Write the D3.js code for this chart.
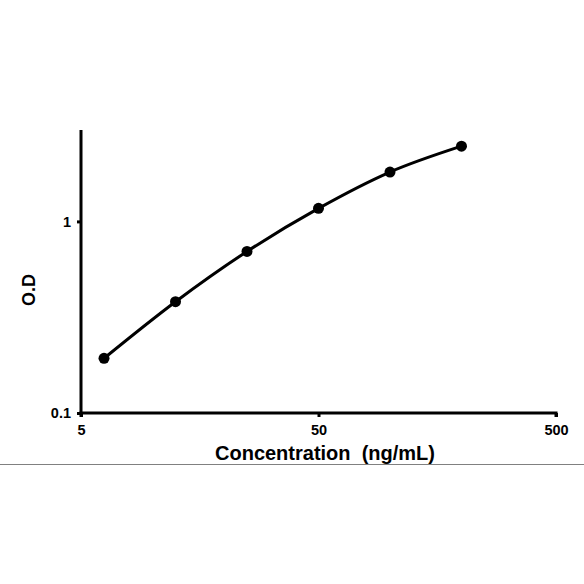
<!DOCTYPE html>
<html>
<head>
<meta charset="utf-8">
<script src="https://cdn.jsdelivr.net/npm/d3@7"></script>
<style>
  body { margin: 0; background: #fff; }
  svg text { font-family: "Liberation Sans", Arial, sans-serif; font-weight: bold; fill: #000; }
</style>
</head>
<body>
<svg class="curve" width="584" height="584"></svg>
<script>
// standard curve data
var concentration = [6.25, 12.5, 25, 50, 100, 200];
var od = [0.193, 0.381, 0.697, 1.17, 1.81, 2.47];
var xTicks = [5, 50, 500];
var yTicks = [0.1, 1];

var margin = {top: 130, right: 28, bottom: 171, left: 81},
    width = 584 - margin.left - margin.right,
    height = 584 - margin.top - margin.bottom;

var data = concentration.map(function(c, i) { return {x: c, y: od[i]}; });

var x = d3.scaleLog()
    .domain([5, 500])
    .range([0, width]);

var y = d3.scaleLog()
    .domain([0.1, 3])
    .range([height, 0]);

var svg = d3.select("svg.curve");

var g = svg.append("g")
    .attr("transform", "translate(" + margin.left + "," + margin.top + ")");

// x axis
var xAxis = g.append("g")
    .attr("transform", "translate(0," + height + ")")
    .call(d3.axisBottom(x)
      .tickValues(xTicks)
      .tickFormat(d3.format("d"))
      .tickSize(4)
      .tickPadding(8));

// y axis
var yAxis = g.append("g")
    .call(d3.axisLeft(y)
      .tickValues(yTicks)
      .tickFormat(function(d) { return d; })
      .tickSize(4)
      .tickPadding(6));

[xAxis, yAxis].forEach(function(a) {
  a.select(".domain").attr("stroke", "#000").attr("stroke-width", 3);
  a.selectAll(".tick line").attr("stroke", "#000").attr("stroke-width", 3);
  a.selectAll(".tick text").style("font-size", "14.5px");
});
// square off the domain path ends
xAxis.select(".domain").attr("d", "M0,4V0H" + width + "V4");
yAxis.select(".domain").attr("d", "M0,0V" + height);

// fitted curve
var line = d3.line()
    .x(function(d) { return x(d.x); })
    .y(function(d) { return y(d.y); })
    .curve(d3.curveMonotoneX);

g.append("path")
    .datum(data)
    .attr("fill", "none")
    .attr("stroke", "#000")
    .attr("stroke-width", 3)
    .attr("d", line);

g.selectAll("circle")
    .data(data)
  .enter().append("circle")
    .attr("cx", function(d) { return x(d.x); })
    .attr("cy", function(d) { return y(d.y); })
    .attr("r", 5.5)
    .attr("fill", "#000");

// axis titles
svg.append("text")
    .attr("x", 325)
    .attr("y", 460)
    .attr("text-anchor", "middle")
    .style("font-size", "20px")
    .style("white-space", "pre")
    .text("Concentration  (ng/mL)");

svg.append("text")
    .attr("transform", "translate(35,290) rotate(-90)")
    .attr("text-anchor", "middle")
    .style("font-size", "18px")
    .text("O.D");

// separator line
svg.append("line")
    .attr("x1", 0)
    .attr("x2", 584)
    .attr("y1", 464.5)
    .attr("y2", 464.5)
    .attr("stroke", "#808080")
    .attr("stroke-width", 1);
</script>
</body>
</html>
